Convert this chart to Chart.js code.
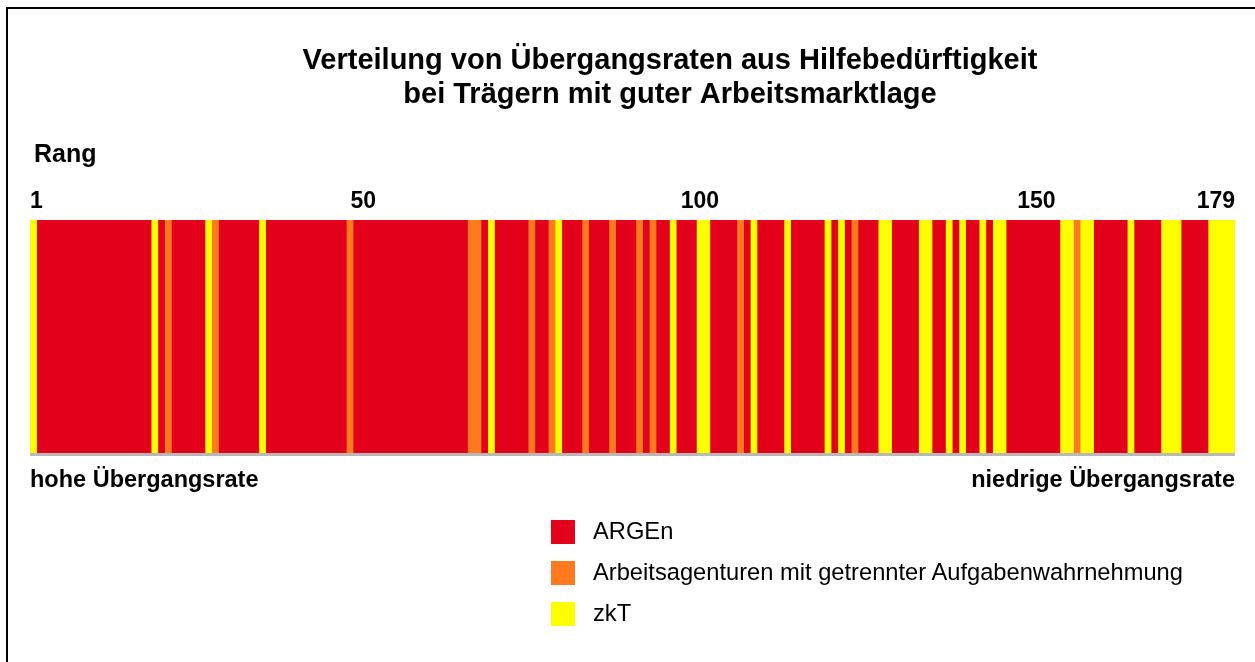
<!DOCTYPE html>
<html>
<head>
<meta charset="utf-8">
<script src="https://cdn.jsdelivr.net/npm/chart.js@4.4.1/dist/chart.umd.min.js"></script>
<style>
body { margin: 0; background: #fff; font-family: "Liberation Sans", Arial, sans-serif; }
#wrap { position: relative; width: 1255px; height: 662px; overflow: hidden; }
#frame { position: absolute; left: 6px; top: 7px; width: 1300px; height: 700px; border-left: 2px solid #000; border-top: 2px solid #000; }
#legend { position: absolute; left: 551px; top: 511px; }
.item { display: flex; align-items: center; height: 41px; font-size: 23.7px; color: #000; }
.box { width: 24px; height: 24px; margin-right: 18px; }
</style>
</head>
<body>
<div id="wrap">
    <div id="frame"></div>
    <canvas id="rangChart" width="1255" height="662"></canvas>
    <div id="legend"></div>
</div>
<script>
const typeNames = ['ARGEn', 'Arbeitsagenturen mit getrennter Aufgabenwahrnehmung', 'zkT'];
const typeColors = ['#e2001a', '#ff7a1e', '#ffff00'];

// Rangfolge als Abschnitte [Typ, Anzahl Ränge]: 0 = ARGE, 1 = Arbeitsagentur, 2 = zkT
const runs = [
    [2, 1], [0, 17], [2, 1], [0, 1], [1, 1], [0, 5], [2, 1], [1, 1], [0, 6], [2, 1],
    [0, 12], [1, 1], [0, 17], [1, 2], [0, 1], [2, 1], [0, 5], [1, 1], [0, 2], [1, 1],
    [2, 1], [0, 3], [1, 1], [0, 3], [1, 1], [0, 3], [1, 1], [0, 1], [1, 1], [0, 2],
    [2, 1], [0, 3], [2, 2], [0, 4], [1, 1], [0, 1], [2, 1], [0, 4], [2, 1], [0, 5],
    [2, 1], [0, 1], [2, 1], [0, 1], [1, 1], [0, 3], [2, 2], [0, 4], [2, 2], [0, 2],
    [2, 1], [0, 1], [2, 1], [0, 2], [2, 1], [0, 1], [2, 2], [0, 8], [2, 2], [1, 1],
    [2, 2], [0, 5], [2, 1], [0, 4], [2, 3], [0, 4], [2, 4]
];

const tickRanks = [1, 50, 100, 150, 179];
const title = ['Verteilung von Übergangsraten aus Hilfebedürftigkeit', 'bei Trägern mit guter Arbeitsmarktlage'];

// ein schwebender Balken je Abschnitt, von Rang (start - 1) bis Rang end
function makeDatasets() {
    let sets = [];
    let start = 0;
    runs.forEach(function (r) {
        sets.push({
            label: typeNames[r[0]],
            data: [[start, start + r[1]]],
            backgroundColor: typeColors[r[0]],
            borderWidth: 0,
            inflateAmount: 0.3,
            barPercentage: 1,
            categoryPercentage: 1
        });
        start += r[1];
    });
    return sets;
}
let totalRanks = runs.reduce(function (s, r) { return s + r[1]; }, 0);

const FONT = '"Liberation Sans", Arial, sans-serif';

const textPlugin = {
    id: 'texts',
    afterDraw: function (chart) {
        let ctx = chart.ctx;
        let area = chart.chartArea;
        let x = chart.scales.x;
        ctx.save();
        ctx.fillStyle = '#b8b8b8';
        ctx.fillRect(area.left, area.bottom, area.right - area.left, 3);

        ctx.fillStyle = '#000';
        ctx.textBaseline = 'alphabetic';
        ctx.font = 'bold 29px ' + FONT;
        ctx.textAlign = 'center';
        ctx.fillText(title[0], 670, 69);
        ctx.fillText(title[1], 670, 103);

        ctx.font = 'bold 25px ' + FONT;
        ctx.textAlign = 'left';
        ctx.fillText('Rang', 34, 162);

        ctx.font = 'bold 23px ' + FONT;
        tickRanks.forEach(function (r, i) {
            let px = x.getPixelForValue(r - 0.5);
            if (i === 0) {
                ctx.textAlign = 'left';
                px = area.left;
            } else if (i === tickRanks.length - 1) {
                ctx.textAlign = 'right';
                px = area.right;
            } else {
                ctx.textAlign = 'center';
            }
            ctx.fillText(String(r), px, 208);
        });

        ctx.font = 'bold 23.5px ' + FONT;
        ctx.textAlign = 'left';
        ctx.fillText('hohe Übergangsrate', area.left, 487);
        ctx.textAlign = 'right';
        ctx.fillText('niedrige Übergangsrate', area.right, 487);
        ctx.restore();
    }
};

let rangChart = new Chart(document.getElementById('rangChart').getContext('2d'), {
    type: 'bar',
    data: {
        labels: ['Rang'],
        datasets: makeDatasets()
    },
    options: {
        indexAxis: 'y',
        responsive: false,
        animation: false,
        devicePixelRatio: 1,
        grouped: false,
        layout: { padding: { left: 30, right: 20, top: 220, bottom: 209 } },
        scales: {
            x: { type: 'linear', display: false, min: 0, max: totalRanks },
            y: { display: false }
        },
        plugins: {
            legend: { display: false },
            tooltip: { enabled: false }
        }
    },
    plugins: [textPlugin]
});

// Legende untereinander
let legendBox = document.getElementById('legend');
typeNames.forEach(function (name, k) {
    let item = document.createElement('div');
    item.className = 'item';
    let box = document.createElement('span');
    box.className = 'box';
    box.style.background = typeColors[k];
    item.appendChild(box);
    item.appendChild(document.createTextNode(name));
    legendBox.appendChild(item);
});
</script>
</body>
</html>
